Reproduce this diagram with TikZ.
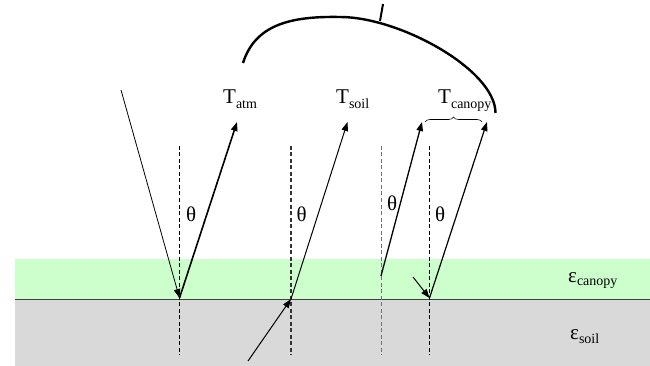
\documentclass[tikz,border=0pt]{standalone}
\usepackage{fontspec}
\setmainfont{Liberation Serif}
\usetikzlibrary{arrows.meta,decorations.pathreplacing}
\definecolor{canopygreen}{RGB}{204,255,204}
\definecolor{soilgray}{RGB}{217,217,217}
\newcommand\sbs[2][5pt]{\raisebox{-#1}{\fontsize{14}{14}\selectfont #2}}
\begin{document}
\begin{tikzpicture}[x=1pt,y=-1pt,
  lbl/.style={anchor=base west,inner sep=0pt,font=\fontsize{21}{21}\selectfont},
  ray/.style={-{Triangle[length=9pt,width=6.5pt]},line width=#1},
  ray/.default=1pt,
  normal/.style={dash pattern=on 4pt off 2.5pt,line width=0.7pt}]
\useasboundingbox (0,0) rectangle (650,366);
% layers
\fill[canopygreen] (15,259) rectangle (650,299);
\fill[soilgray] (15,299) rectangle (650,366);
\draw[black!75,line width=1pt] (15,299) -- (650,299);
% normals
\coordinate (n1t) at (179.5,146); \coordinate (n1b) at (179.5,355);
\coordinate (n2t) at (291,146);   \coordinate (n2b) at (291,355);
\coordinate (n3t) at (381,146);   \coordinate (n3b) at (381,355);
\coordinate (n4t) at (429.5,146); \coordinate (n4b) at (429.5,355);
\draw[normal] (n1t) -- (n1b);
\draw[normal,line width=1.3pt,black!80] (n2t) -- (n2b);
\draw[normal,black!55,line width=0.9pt] (n3t) -- (n3b);
\draw[normal] (n4t) -- (n4b);
% rays
\coordinate (s1) at (121,90);    \coordinate (g1) at (179.5,298);
\coordinate (e1) at (237,122);
\coordinate (s2) at (248,361);   \coordinate (g2) at (291,299);
\coordinate (e2) at (347.5,122);
\coordinate (s3) at (381,276);   \coordinate (e3) at (422,122);
\coordinate (s4) at (413,277);   \coordinate (g4) at (429.5,298);
\coordinate (e4) at (487,122);
\draw[ray=0.8pt] (s1) -- (g1);
\draw[ray=1.6pt] (g1) -- (e1);
\draw[ray=1pt] (s2) -- (g2);
\draw[ray=1pt] (g2) -- (e2);
\draw[ray=1.3pt] (s3) -- (e3);
\draw[ray=1pt] (s4) -- (g4);
\draw[ray=1.2pt] (g4) -- (e4);
% labels
\node[lbl] (tatm) at (223,104) {T\sbs{atm}};
\node[lbl] (tsoil) at (336,104) {T\sbs{soil}};
\node[lbl] (tcan) at (438,104) {T\sbs{canopy}};
\node[lbl] (th1) at (186,221.5) {θ};
\node[lbl] (th2) at (296.5,221.5) {θ};
\node[lbl] (th3) at (387,210.5) {θ};
\node[lbl] (th4) at (435,221.5) {θ};
\node[lbl] (ecan) at (568,282) {ε\sbs[3pt]{canopy}};
\node[lbl] (esoil) at (570,339) {ε\sbs[4pt]{soil}};
% brace
\coordinate (bl) at (425,122); \coordinate (br) at (482,122);
\draw[decorate,decoration={brace,amplitude=5pt},line width=0.6pt] (bl) -- (br);
% big arc with tick
\coordinate (a0) at (243,63); \coordinate (am) at (340,17);
\coordinate (a1) at (495.5,113);
\draw[line width=2.4pt] (a0) .. controls (255,25) and (290,16) .. (am)
  .. controls (400,17) and (495.5,70) .. (a1);
\coordinate (tk0) at (380,21); \coordinate (tk1) at (383,4);
\draw[line width=2pt] (tk0) -- (tk1);
\end{tikzpicture}
\end{document}
